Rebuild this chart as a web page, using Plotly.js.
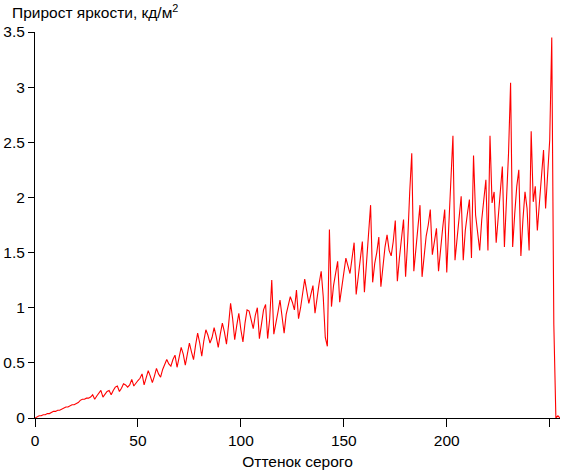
<!DOCTYPE html>
<html>
<head>
<meta charset="utf-8">
<script src="https://cdn.plot.ly/plotly-3.0.1.min.js"></script>
<style>html,body{margin:0;padding:0;background:#fff;}#chart{width:561px;height:471px;}</style>
</head>
<body>
<div id="chart"></div>
<script>
const grayLevels = Array.from({length: 256}, (_, i) => i);
const brightnessGain = [
 0.00,0.01,0.02,0.02,0.03,0.03,0.04,0.04,0.05,0.06,
 0.06,0.07,0.07,0.08,0.09,0.10,0.10,0.11,0.12,0.12,
 0.13,0.14,0.16,0.17,0.17,0.18,0.18,0.19,0.21,0.17,
 0.20,0.23,0.25,0.19,0.22,0.24,0.25,0.21,0.25,0.28,
 0.29,0.24,0.27,0.31,0.30,0.28,0.30,0.35,0.29,0.32,
 0.34,0.36,0.40,0.30,0.36,0.43,0.38,0.32,0.38,0.45,
 0.40,0.37,0.44,0.48,0.53,0.49,0.47,0.53,0.57,0.46,
 0.55,0.64,0.58,0.48,0.58,0.68,0.60,0.53,0.66,0.77,
 0.68,0.56,0.70,0.80,0.75,0.68,0.73,0.82,0.74,0.64,
 0.76,0.86,0.78,0.67,0.84,1.04,0.90,0.71,0.84,0.95,
 0.80,0.69,0.86,0.98,0.97,0.88,0.81,0.93,1.00,0.72,
 0.85,0.98,1.03,0.72,0.90,1.25,0.76,0.88,0.96,1.07,
 0.90,0.77,0.94,1.02,1.10,1.05,0.98,1.16,0.90,1.00,
 1.13,1.26,1.15,1.04,1.12,1.20,0.95,1.10,1.22,1.33,
 1.10,0.73,0.65,1.71,1.01,1.20,1.30,1.42,1.05,1.20,
 1.32,1.45,1.38,1.31,1.45,1.59,1.12,1.30,1.45,1.60,
 1.14,1.40,1.65,1.93,1.23,1.40,1.50,1.64,1.19,1.38,
 1.55,1.66,1.52,1.47,1.60,1.79,1.24,1.45,1.62,1.80,
 1.28,1.60,2.05,2.40,1.33,1.55,1.75,1.93,1.28,1.50,
 1.65,1.75,1.89,1.48,1.60,1.72,1.33,1.55,1.72,1.89,
 1.32,1.75,2.15,2.56,1.43,1.65,1.85,2.01,1.43,1.70,
 1.85,1.98,1.45,2.38,1.84,1.70,1.52,1.80,2.00,2.16,
 1.52,2.56,1.95,2.05,1.59,1.85,2.05,2.28,1.55,2.00,
 2.40,3.04,1.55,1.85,2.10,2.25,1.47,1.80,2.05,1.90,
 1.52,2.60,1.96,2.10,1.70,1.95,2.20,2.43,1.90,2.20,
 2.52,3.45,0.85,0.00,0.02,0.00
];
const xTickVals = [0, 50, 100, 150, 200, 250];
const yTickVals = [0, 0.5, 1, 1.5, 2, 2.5, 3, 3.5];
const yTickText = ['0', '0.5', '1', '1.5', '2', '2.5', '3', '3.5'];

const traces = [{
  x: grayLevels,
  y: brightnessGain,
  type: 'scatter',
  mode: 'lines',
  line: {color: '#ff0000', width: 1.1},
  hoverinfo: 'skip'
}];

const fontFam = 'Arial, "Liberation Sans", sans-serif';
const fs = 15.5;
const layout = {
  width: 561, height: 471,
  margin: {l: 35, r: 1, t: 32, b: 53},
  paper_bgcolor: '#ffffff',
  plot_bgcolor: '#ffffff',
  showlegend: false,
  font: {family: fontFam, size: fs, color: '#000'},
  title: {
    text: 'Прирост яркости, кд/м<sup>2</sup>',
    x: 12 / 561, xanchor: 'left', xref: 'container',
    y: 1 - 13 / 471, yanchor: 'middle', yref: 'container',
    font: {family: fontFam, size: fs, color: '#000'}
  },
  xaxis: {
    range: [0, 255],
    tickvals: xTickVals,
    ticks: 'outside', ticklen: 8, tickcolor: '#000', tickwidth: 1,
    showline: true, linecolor: '#000', linewidth: 1,
    showgrid: false, zeroline: false,
    tickfont: {family: fontFam, size: fs, color: '#000'},
    title: {text: 'Оттенок серого', standoff: 8, font: {family: fontFam, size: fs, color: '#000'}}
  },
  yaxis: {
    range: [0, 3.5],
    tickvals: yTickVals,
    ticktext: yTickText,
    ticks: 'outside', ticklen: 6, tickcolor: '#000', tickwidth: 1,
    showline: true, linecolor: '#000', linewidth: 1,
    showgrid: false, zeroline: false,
    tickfont: {family: fontFam, size: fs, color: '#000'}
  }
};

Plotly.newPlot('chart', traces, layout, {staticPlot: true, displayModeBar: false});
</script>
</body>
</html>
